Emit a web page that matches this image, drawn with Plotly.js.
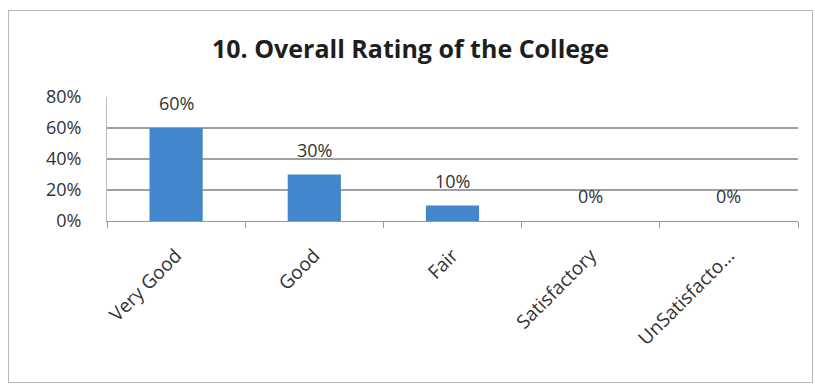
<!DOCTYPE html>
<html>
<head>
<meta charset="utf-8">
<script src="https://cdn.plot.ly/plotly-3.0.1.min.js"></script>
<style>
  html, body { margin: 0; padding: 0; background: #fff; }
  #frame { position: absolute; left: 8px; top: 10px; width: 803px; height: 371px; border: 1.5px solid #b8b8b8; background: #fff; }
  #chart { width: 803px; height: 371px; }
</style>
</head>
<body>
<div id="frame"><div id="chart"></div></div>
<script>
const categories = ["Very Good", "Good", "Fair", "Satisfactory", "UnSatisfacto..."];
const values = [0.60, 0.30, 0.10, 0.00, 0.00];
const valueLabels = ["60%", "30%", "10%", "0%", "0%"];
const titleText = "10. Overall Rating of the College";

const fontFam = "'Open Sans', Lato, sans-serif";
const textColor = "#333333";

const trace = {
  type: "bar",
  x: categories,
  y: values,
  marker: { color: "#4287cb" },
  hoverinfo: "skip"
};

const annotations = categories.map((c, i) => ({
  x: c, y: values[i], xref: "x", yref: "y",
  text: valueLabels[i], showarrow: false,
  yanchor: "middle", yshift: 25,
  font: { family: fontFam, size: 18, color: textColor }
}));

const layout = {
  width: 803, height: 371,
  margin: { l: 98, r: 14, t: 86, b: 161 },
  paper_bgcolor: "#fff", plot_bgcolor: "#fff",
  title: {
    text: "<b>" + titleText + "</b>",
    xref: "container", x: 0.5, xanchor: "center",
    yref: "container", y: 1 - 38 / 371, yanchor: "middle",
    font: { family: fontFam, size: 25, color: "#1e1e1e" }
  },
  bargap: 0.615,
  showlegend: false,
  xaxis: {
    type: "category",
    tickangle: -45,
    tickson: "boundaries",
    ticks: "outside", ticklen: 6, tickcolor: "#999",
    showline: true, linecolor: "#999", linewidth: 1,
    showgrid: false,
    ticklabelstandoff: 15,
    tickfont: { family: fontFam, size: 19, color: textColor },
    fixedrange: true
  },
  yaxis: {
    range: [0, 0.8], dtick: 0.2, tickformat: ".0%",
    showgrid: true, gridcolor: "#a0a0a0", gridwidth: 1.2,
    showline: true, linecolor: "#bbb", linewidth: 1,
    zeroline: false,
    ticks: "", ticklabelstandoff: 21,
    tickfont: { family: fontFam, size: 18, color: textColor },
    fixedrange: true
  },
  annotations: annotations
};

Plotly.newPlot("chart", [trace], layout, { staticPlot: true, displayModeBar: false });
</script>
</body>
</html>
